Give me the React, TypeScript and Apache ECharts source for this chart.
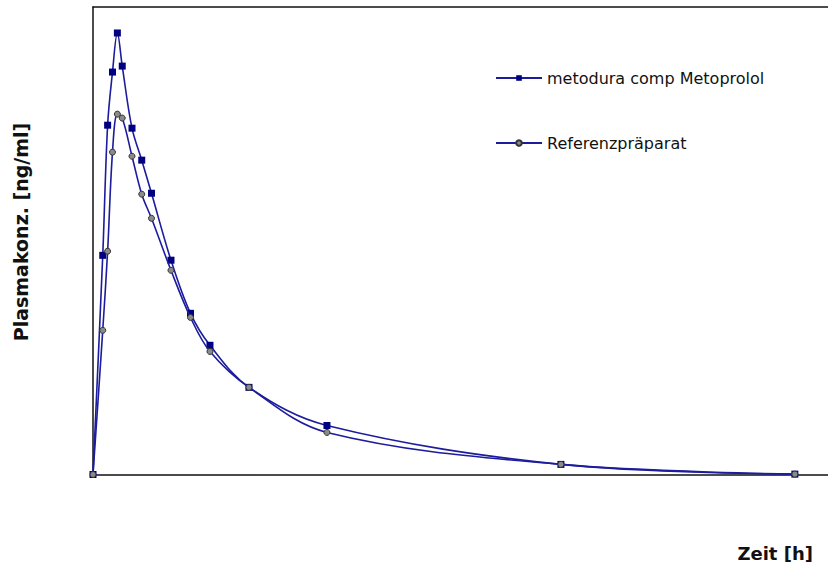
import React, { useEffect, useRef } from "react";
import * as echarts from "echarts";

const times = [0, 0.5, 0.75, 1, 1.25, 1.5, 2, 2.5, 3, 4, 5, 6, 8, 12, 24, 36];
const metodura = [0, 117.2, 186.8, 215.2, 236.1, 218.4, 185.2, 168.1, 150.4, 114.6, 86.2, 69.1, 46.6, 26.2, 5.4, 0.2];
const referenz = [0, 77.1, 119.4, 172.4, 192.7, 190.6, 170.2, 149.9, 137.0, 109.2, 84.0, 65.8, 46.6, 22.5, 5.4, 0.2];
const seriesNames = ["metodura comp Metoprolol", "Referenzpräparat"];
const xTitle = "Zeit [h]";
const yTitle = "Plasmakonz. [ng/ml]";

export default function App() {
  const ref = useRef<HTMLDivElement>(null);
  useEffect(() => {
    document.body.style.margin = "0";
    if (!ref.current) return;
    const chart = echarts.init(ref.current, null, { renderer: "svg" });
    const lineColor = "#1c1c9c";
    const axisStyle = { show: true, onZero: false, lineStyle: { color: "#111", width: 1.5 } };
    chart.setOption({
      animation: false,
      backgroundColor: "#fff",
      grid: { left: 93, top: 7, right: 0, bottom: 95.5, containLabel: false },
      legend: {
        orient: "vertical",
        left: 495,
        top: 68,
        padding: 0,
        itemWidth: 46,
        itemHeight: 7,
        itemGap: 45,
        textStyle: { fontFamily: "DejaVu Sans", fontSize: 16, color: "#111", lineHeight: 20 },
        data: seriesNames,
      },
      xAxis: [
        {
          type: "value",
          min: 0,
          max: 37.7,
          position: "bottom",
          axisLine: axisStyle,
          axisTick: { show: false },
          axisLabel: { show: false },
          splitLine: { show: false },
        },
        {
          type: "value",
          min: 0,
          max: 37.7,
          position: "top",
          axisLine: axisStyle,
          axisTick: { show: false },
          axisLabel: { show: false },
          splitLine: { show: false },
        },
      ],
      yAxis: {
        type: "value",
        min: 0,
        max: 250,
        axisLine: axisStyle,
        axisTick: { show: false },
        axisLabel: { show: false },
        splitLine: { show: false },
      },
      graphic: [
        {
          type: "text",
          x: 21,
          y: 232,
          rotation: Math.PI / 2,
          style: {
            text: yTitle,
            font: "bold 19px 'DejaVu Sans'",
            fill: "#111",
            textAlign: "center",
            textVerticalAlign: "middle",
          },
        },
        {
          type: "text",
          x: 813,
          y: 553,
          style: {
            text: xTitle,
            font: "bold 18px 'DejaVu Sans'",
            fill: "#111",
            textAlign: "right",
            textVerticalAlign: "middle",
          },
        },
      ],
      series: [
        {
          name: seriesNames[0],
          type: "line",
          smooth: 0.35,
          clip: false,
          data: times.map((t, i) => [t, metodura[i]]),
          symbol: "rect",
          symbolSize: 7,
          lineStyle: { color: lineColor, width: 1.6 },
          itemStyle: { color: "#000080", borderColor: "#000080", borderWidth: 0 },
          z: 2,
        },
        {
          name: seriesNames[1],
          type: "line",
          smooth: 0.35,
          clip: false,
          data: times.map((t, i) => [t, referenz[i]]),
          symbol: "circle",
          symbolSize: 6,
          lineStyle: { color: lineColor, width: 1.6 },
          itemStyle: { color: "#8a8a8a", borderColor: "#333", borderWidth: 1 },
          z: 3,
        },
      ],
    });
    return () => chart.dispose();
  }, []);
  return <div ref={ref} style={{ width: 828, height: 570 }} />;
}
